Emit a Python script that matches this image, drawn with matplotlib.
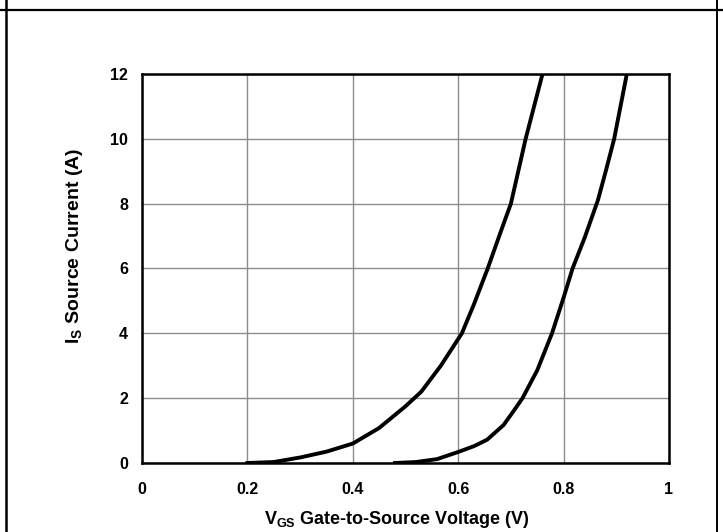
import matplotlib
matplotlib.use('Agg')
import matplotlib.pyplot as plt
from matplotlib.lines import Line2D

# Font setup (Arial-like bold)
plt.rcParams['font.family'] = 'Liberation Sans'
plt.rcParams['font.weight'] = 'bold'
plt.rcParams['axes.labelweight'] = 'bold'
plt.rcParams['mathtext.fontset'] = 'custom'
plt.rcParams['mathtext.rm'] = 'Liberation Sans:bold'
plt.rcParams['mathtext.bf'] = 'Liberation Sans:bold'

# Data
vgs_a = [0.20, 0.25, 0.30, 0.35, 0.40, 0.45, 0.50, 0.53, 0.567, 0.607, 0.63, 0.656, 0.68, 0.70, 0.728, 0.76]
is_a = [0.0, 0.03, 0.17, 0.35, 0.60, 1.08, 1.75, 2.2, 3.0, 4.0, 4.9, 6.0, 7.1, 8.0, 10.0, 12.0]

vgs_b = [0.48, 0.52, 0.56, 0.60, 0.63, 0.655, 0.686, 0.705, 0.722, 0.75, 0.778, 0.80, 0.817, 0.84, 0.865, 0.88, 0.896, 0.92]
is_b = [0.0, 0.03, 0.12, 0.34, 0.52, 0.72, 1.17, 1.6, 2.0, 2.86, 4.0, 5.1, 6.0, 6.95, 8.1, 9.0, 10.0, 12.0]

x_ticks = [0, 0.2, 0.4, 0.6, 0.8, 1]
x_labels = ['0', '0.2', '0.4', '0.6', '0.8', '1']
y_ticks = [0, 2, 4, 6, 8, 10, 12]

fig = plt.figure(figsize=(7.23, 5.32), dpi=100)
ax = fig.add_axes([0.1964, 0.1297, 0.7289, 0.7313])

ax.plot(vgs_a, is_a, color='black', lw=2.8, solid_joinstyle='round', zorder=3)
ax.plot(vgs_b, is_b, color='black', lw=2.8, solid_joinstyle='round', zorder=3)

ax.set_xlim(0, 1)
ax.set_ylim(0, 12)
ax.set_xticks(x_ticks)
ax.set_xticklabels(x_labels, fontweight='bold')
ax.set_yticks(y_ticks)
ax.set_yticklabels([str(v) for v in y_ticks], fontweight='bold')
ax.tick_params(length=0, labelsize=11.5, pad=14)
ax.tick_params(axis='y', pad=10)
ax.grid(True, color='#8c8c8c', lw=1.0)
ax.set_axisbelow(True)
for s in ax.spines.values():
	s.set_linewidth(1.8)
	s.set_color('black')

# labels sit a bit off-centre in the reference
ax.set_xlabel(r'V$_{\mathrm{GS}}$ Gate-to-Source Voltage (V)', fontsize=13, fontweight='bold', labelpad=8, x=0.483)
ax.set_ylabel(r'I$_{\mathrm{S}}$ Source Current (A)', fontsize=14, fontweight='bold', labelpad=18, y=0.558)

# outer table-style frame
W, H = 723.0, 532.0
fig.add_artist(Line2D([0, 1], [1 - 10 / H, 1 - 10 / H], color='black', lw=1.6, transform=fig.transFigure))
fig.add_artist(Line2D([5.5 / W, 5.5 / W], [0, 1], color='black', lw=1.8, transform=fig.transFigure))
fig.add_artist(Line2D([716.5 / W, 716.5 / W], [0, 1], color='black', lw=1.4, transform=fig.transFigure))

fig.savefig('out.png', dpi=100)
